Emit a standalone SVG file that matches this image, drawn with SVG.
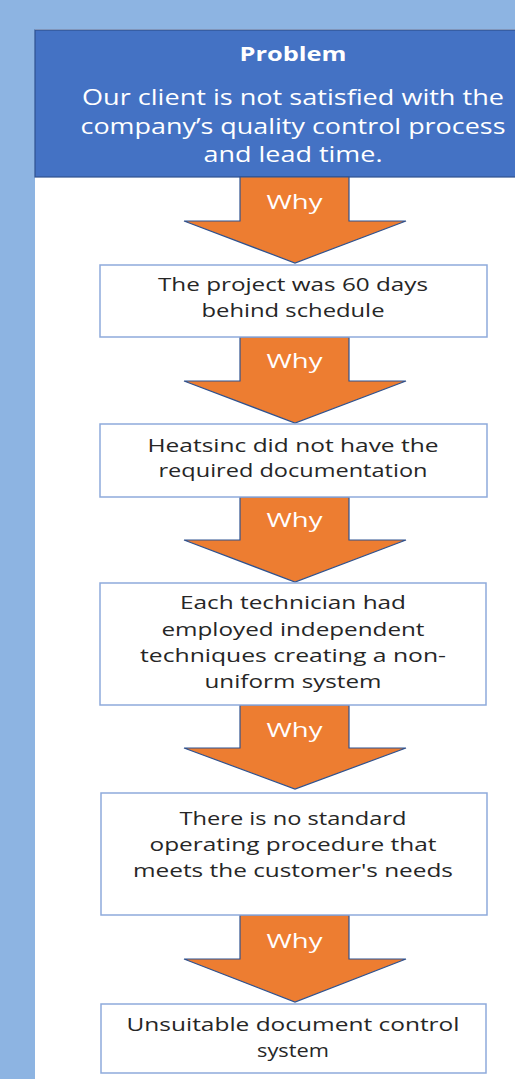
<svg xmlns="http://www.w3.org/2000/svg" width="515" height="1079" viewBox="0 0 515 1079">
  <style>
    .bg { fill: #8db4e2; }
    .panel { fill: #ffffff; }
    .header { fill: #4472c4; stroke: #2f528f; stroke-width: 1.2; }
    .box { fill: #ffffff; stroke: #8eaadb; stroke-width: 1.5; }
    .arrow { fill: #ed7d31; stroke: #2f528f; stroke-width: 1.2; stroke-linejoin: miter; }
    text { font-family: "Open Sans", "Noto Sans", "DejaVu Sans", sans-serif; text-anchor: middle; }
    .htitle { fill: #ffffff; font-size: 20px; font-weight: bold; }
    .hbody { fill: #ffffff; font-size: 21px; }
    .why { fill: #ffffff; font-size: 20px; }
    .label { fill: #262626; font-size: 19px; }
  </style>

  <rect class="bg" x="0" y="0" width="515" height="1079"/>
  <rect class="panel" x="35" y="29" width="480" height="1050"/>

  <g id="problem">
    <rect class="header" x="35" y="30" width="482" height="147"/>
    <text class="htitle" x="293" y="61" textLength="107" lengthAdjust="spacingAndGlyphs">Problem</text>
    <text class="hbody" x="293" y="105" textLength="422" lengthAdjust="spacingAndGlyphs">Our client is not satisfied with the</text>
    <text class="hbody" x="293" y="134" textLength="425" lengthAdjust="spacingAndGlyphs">company’s quality control process</text>
    <text class="hbody" x="293" y="162" textLength="179" lengthAdjust="spacingAndGlyphs">and lead time.</text>
  </g>

  <!-- Orange "Why" block arrows linking each step to the next -->
  <g id="connectors">
    <g id="why1">
      <path class="arrow" d="M240,177 H349 V221 H406 L295,263 L184,221 H240 Z"/>
      <text class="why" x="294.5" y="209" textLength="56" lengthAdjust="spacingAndGlyphs">Why</text>
    </g>
    <g id="why2">
      <path class="arrow" d="M240,337 H349 V381 H406 L295,423 L184,381 H240 Z"/>
      <text class="why" x="294.5" y="368" textLength="56" lengthAdjust="spacingAndGlyphs">Why</text>
    </g>
    <g id="why3">
      <path class="arrow" d="M240,497 H349 V540 H406 L295,582 L184,540 H240 Z"/>
      <text class="why" x="294.5" y="527" textLength="56" lengthAdjust="spacingAndGlyphs">Why</text>
    </g>
    <g id="why4">
      <path class="arrow" d="M240,705 H349 V748 H406 L295,789 L184,748 H240 Z"/>
      <text class="why" x="294.5" y="737" textLength="56" lengthAdjust="spacingAndGlyphs">Why</text>
    </g>
    <g id="why5">
      <path class="arrow" d="M240,915 H349 V959 H406 L295,1002 L184,959 H240 Z"/>
      <text class="why" x="294.5" y="948" textLength="56" lengthAdjust="spacingAndGlyphs">Why</text>
    </g>
  </g>

  <g id="cause1">
    <rect class="box" x="100" y="265" width="387" height="72"/>
    <text class="label" x="293" y="291" textLength="270" lengthAdjust="spacingAndGlyphs">The project was 60 days</text>
    <text class="label" x="293" y="317" textLength="183" lengthAdjust="spacingAndGlyphs">behind schedule</text>
  </g>

  <g id="cause2">
    <rect class="box" x="100" y="424" width="387" height="73"/>
    <text class="label" x="293" y="452" textLength="291" lengthAdjust="spacingAndGlyphs">Heatsinc did not have the</text>
    <text class="label" x="293" y="477" textLength="269" lengthAdjust="spacingAndGlyphs">required documentation</text>
  </g>

  <g id="cause3">
    <rect class="box" x="100" y="583" width="386" height="122"/>
    <text class="label" x="293" y="609" textLength="226" lengthAdjust="spacingAndGlyphs">Each technician had</text>
    <text class="label" x="293" y="636" textLength="263" lengthAdjust="spacingAndGlyphs">employed independent</text>
    <text class="label" x="293" y="662" textLength="306" lengthAdjust="spacingAndGlyphs">techniques creating a non-</text>
    <text class="label" x="293" y="688" textLength="177" lengthAdjust="spacingAndGlyphs">uniform system</text>
  </g>

  <g id="cause4">
    <rect class="box" x="101" y="793" width="386" height="122"/>
    <text class="label" x="293" y="825" textLength="227" lengthAdjust="spacingAndGlyphs">There is no standard</text>
    <text class="label" x="293" y="851" textLength="287" lengthAdjust="spacingAndGlyphs">operating procedure that</text>
    <text class="label" x="293" y="877" textLength="320" lengthAdjust="spacingAndGlyphs">meets the customer's needs</text>
  </g>

  <g id="cause5">
    <rect class="box" x="101" y="1004" width="385" height="69"/>
    <text class="label" x="293" y="1031" textLength="333" lengthAdjust="spacingAndGlyphs">Unsuitable document control</text>
    <text class="label" x="293" y="1057" textLength="72" lengthAdjust="spacingAndGlyphs">system</text>
  </g>
</svg>
